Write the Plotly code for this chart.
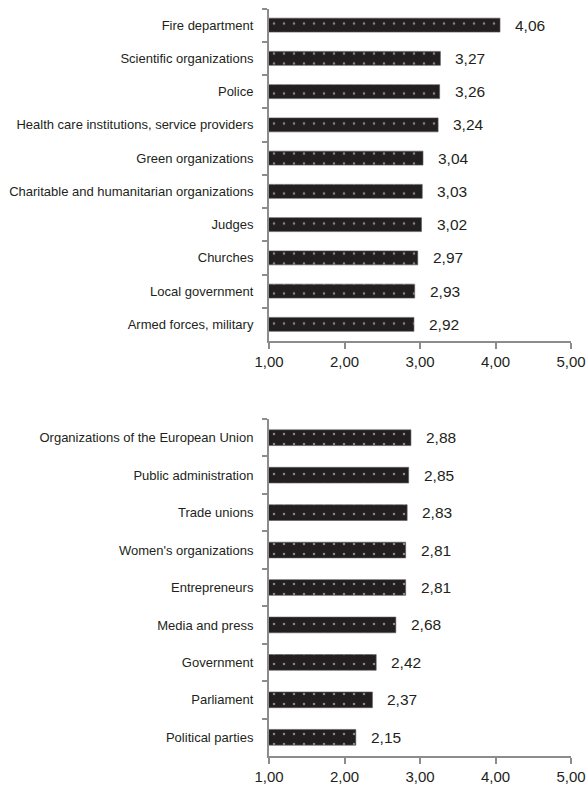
import plotly.graph_objects as go

# Mean trust scores (scale 1-5), two panels
top_labels = [
    "Fire department",
    "Scientific organizations",
    "Police",
    "Health care institutions, service providers",
    "Green organizations",
    "Charitable and humanitarian organizations",
    "Judges",
    "Churches",
    "Local government",
    "Armed forces, military",
]
top_values = [4.06, 3.27, 3.26, 3.24, 3.04, 3.03, 3.02, 2.97, 2.93, 2.92]

bottom_labels = [
    "Organizations of the European Union",
    "Public administration",
    "Trade unions",
    "Women's organizations",
    "Entrepreneurs",
    "Media and press",
    "Government",
    "Parliament",
    "Political parties",
]
bottom_values = [2.88, 2.85, 2.83, 2.81, 2.81, 2.68, 2.42, 2.37, 2.15]

x_ticks = [1, 2, 3, 4, 5]
x_ticktext = ["1,00", "2,00", "3,00", "4,00", "5,00"]

W, H = 586, 789
FONT = "Liberation Sans, Arial, sans-serif"
BAR_COLOR = "#231f20"
AXIS_COLOR = "#8c8c8c"
TEXT_COLOR = "#231f20"

x_dom = [269 / W, 571 / W]
top_dom = [1 - 341 / H, 1 - 8.5 / H]
bot_dom = [1 - 756 / H, 1 - 419 / H]

fig = go.Figure()

pattern = dict(shape=".", fgcolor="#ececec", bgcolor=BAR_COLOR,
               size=10, solidity=0.05, fillmode="overlay")


def add_panel(labels, values, xa, ya):
    fig.add_trace(go.Bar(
        y=labels, x=values, orientation="h",
        xaxis=xa, yaxis=ya,
        marker=dict(color=BAR_COLOR, pattern=pattern,
                    line=dict(color="#5a5a5a", width=0.6)),
        hoverinfo="skip", showlegend=False,
    ))
    for lab, v in zip(labels, values):
        fig.add_annotation(
            x=v, y=lab, xref=xa, yref=ya,
            text=f"{v:.2f}".replace(".", ","),
            showarrow=False, xanchor="left", xshift=13,
            font=dict(family=FONT, size=15.5, color=TEXT_COLOR),
        )


add_panel(top_labels, top_values, "x", "y")
add_panel(bottom_labels, bottom_values, "x2", "y2")

xaxis_common = dict(
    range=[1, 5], tickmode="array", tickvals=x_ticks, ticktext=x_ticktext,
    showgrid=False, zeroline=False, showline=True, linecolor=AXIS_COLOR,
    linewidth=2, ticks="outside", ticklen=6, tickwidth=2, tickcolor=AXIS_COLOR,
    tickfont=dict(family=FONT, size=15, color=TEXT_COLOR),
    automargin=False, fixedrange=True,
)
yaxis_common = dict(
    autorange="reversed", type="category", tickson="boundaries",
    showgrid=False, zeroline=False, showline=True, linecolor=AXIS_COLOR,
    linewidth=2, ticks="outside", ticklen=5, tickwidth=2, tickcolor=AXIS_COLOR,
    tickfont=dict(family=FONT, size=13, color=TEXT_COLOR),
    ticklabelstandoff=11, automargin=False, fixedrange=True,
)

fig.update_layout(
    width=W, height=H,
    margin=dict(l=0, r=0, t=0, b=0),
    paper_bgcolor="white", plot_bgcolor="white",
    bargap=0.58,
    xaxis=dict(domain=x_dom, anchor="y", **xaxis_common),
    yaxis=dict(domain=top_dom, anchor="x", **yaxis_common),
    xaxis2=dict(domain=x_dom, anchor="y2", **xaxis_common),
    yaxis2=dict(domain=bot_dom, anchor="x2", **yaxis_common),
    font=dict(family=FONT, color=TEXT_COLOR),
)

fig.write_html("out.html")
